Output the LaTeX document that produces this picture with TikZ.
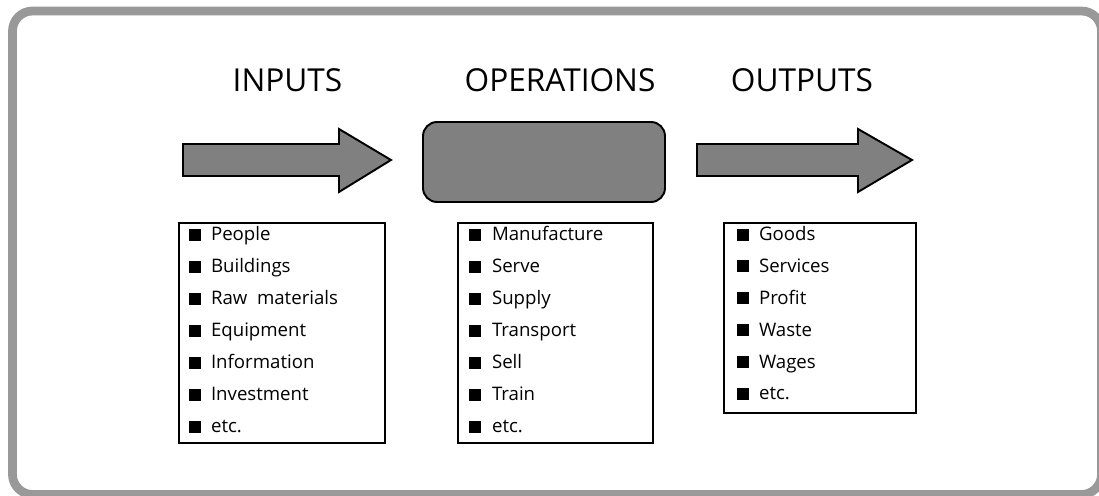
\documentclass[tikz,border=0pt]{standalone}
\usepackage{fontspec}
\setmainfont{Open Sans}
\usetikzlibrary{positioning}

\definecolor{framegray}{RGB}{153,153,153}
\definecolor{blockgray}{RGB}{128,128,128}

\tikzset{
  frame/.style={draw=framegray, line width=5pt, rounded corners=0.4cm},
  head/.style={font=\fontsize{18}{20}\selectfont, inner sep=0pt},
  blockarrow/.style={fill=blockgray, draw=black, line width=1.1pt},
  opbox/.style={fill=blockgray, draw=black, line width=1.1pt, rounded corners=0.28cm,
                minimum width=4.84cm, minimum height=1.6cm},
  listbox/.style={draw=black, line width=1.1pt, minimum height=4.4cm},
  bullet/.style={fill=black, inner sep=0pt, minimum size=0.24cm, anchor=south west},
  item/.style={font=\fontsize{10.6}{12}\selectfont, inner sep=0pt}
}

\begin{document}
\begin{tikzpicture}[x=0.02cm,y=-0.02cm]

\useasboundingbox (0,0) rectangle (1099,496);

% outer frame
\draw[frame] (12.5,11) rectangle (1101.5,494.5);

% titles
\node[head] (inputs) at (287.5,80) {INPUTS};
\node[head] (operations) at (560,80) {OPERATIONS};
\node[head] (outputs) at (802,80) {OUTPUTS};

% big arrows and the operations block
\filldraw[blockarrow] (183,144) -- (339,144) -- (339,129) -- (391,160)
    -- (339,192) -- (339,176) -- (183,176) -- cycle;
\node[opbox] (opblock) at (544,162) {};
\filldraw[blockarrow] (697,144) -- (858,144) -- (858,129) -- (912,160)
    -- (858,192) -- (858,176) -- (697,176) -- cycle;

% lists
\node[listbox, minimum width=4.12cm] (inlist) at (282,333) {};
\node[listbox, minimum width=3.9cm] (oplist) at (555.5,333) {};
\node[listbox, minimum width=3.84cm, minimum height=3.8cm] (outlist) at (820,318) {};

\foreach \t [count=\i] in {People,Buildings,Raw\ \ materials,Equipment,Information,Investment,etc.}
{
    \node[bullet] (in-sq-\i) at (189,{241+32*(\i-1)}) {};
    \node[item, right=0.18cm of in-sq-\i.south east, anchor=base west] (in-\i) {\t};
}

\foreach \t [count=\i] in {Manufacture,Serve,Supply,Transport,Sell,Train,etc.}
{
    \node[bullet] (op-sq-\i) at (469,{241+32*(\i-1)}) {};
    \node[item, right=0.2cm of op-sq-\i.south east, anchor=base west] (op-\i) {\t};
}

\foreach \t [count=\i] in {Goods,Services,Profit,Waste,Wages,etc.}
{
    \node[bullet] (out-sq-\i) at (737,{241+31.8*(\i-1)}) {};
    \node[item, right=0.18cm of out-sq-\i.south east, anchor=base west] (out-\i) {\t};
}

\end{tikzpicture}
\end{document}
